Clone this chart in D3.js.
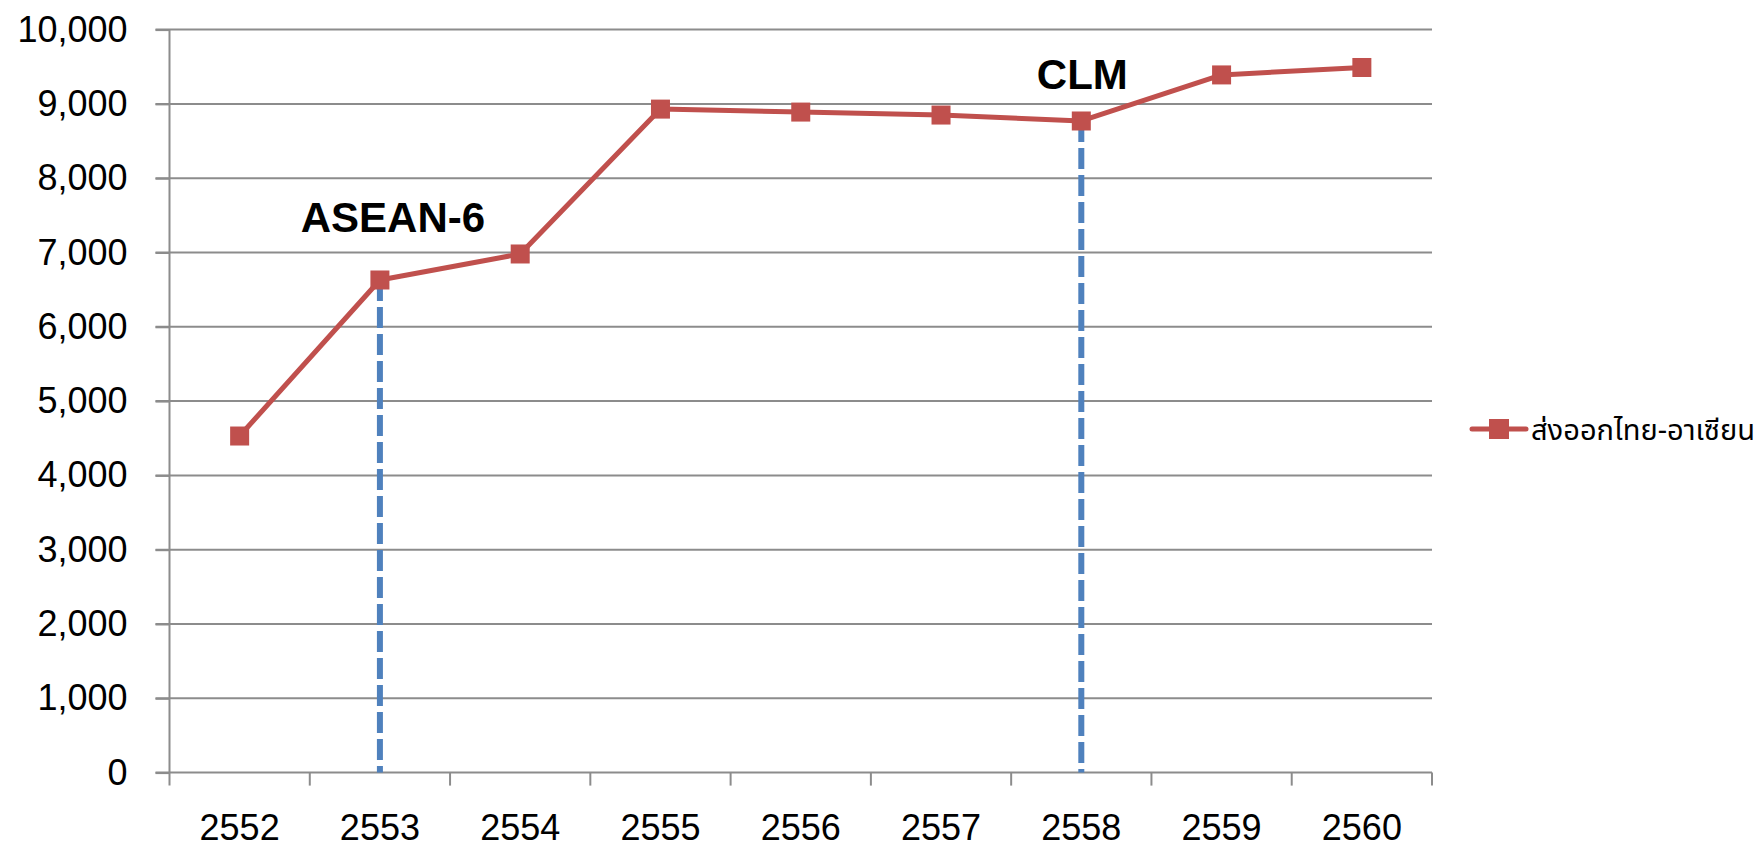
<!DOCTYPE html>
<html>
<head>
<meta charset="utf-8">
<script src="https://cdn.jsdelivr.net/npm/d3@7"></script>
<style>
  body { margin: 0; background: #fff; }
  svg { display: block; }
</style>
</head>
<body>
<svg id="chart" width="1762" height="847"></svg>
<script>
// data
const years = ["2552", "2553", "2554", "2555", "2556", "2557", "2558", "2559", "2560"];
const exportValues = [4530, 6630, 6980, 8930, 8890, 8850, 8770, 9390, 9490];
const seriesName = "ส่งออกไทย-อาเซียน";
const yTicks = [0, 1000, 2000, 3000, 4000, 5000, 6000, 7000, 8000, 9000, 10000];
const markYears = ["2553", "2558"];
const markLabels = ["ASEAN-6", "CLM"];

const svg = d3.select("#chart");

const plot = { left: 169.5, right: 1432, top: 29.6, bottom: 772.6 };
const RED = "#C0504D", BLUE = "#4F81BD", GRID = "#8c8c8c";
const labelFont = "'Liberation Sans', Arial, sans-serif";

const x = d3.scaleBand().domain(years).range([plot.left, plot.right]).padding(0);
const y = d3.scaleLinear().domain([0, 10000]).range([plot.bottom, plot.top]);
const xc = d => x(d) + x.bandwidth() / 2;

// gridlines (start at the tick, like excel)
svg.append("g")
  .selectAll("line")
  .data(yTicks.slice(1))
  .join("line")
    .attr("x1", plot.left - 14).attr("x2", plot.right)
    .attr("y1", d => y(d)).attr("y2", d => y(d))
    .attr("stroke", GRID).attr("stroke-width", 2);

// y axis
const yAxis = svg.append("g")
  .attr("transform", `translate(${plot.left},0)`)
  .call(d3.axisLeft(y).tickValues(yTicks).tickSize(14).tickPadding(28).tickFormat(d3.format(",")));
yAxis.select(".domain").remove();
yAxis.selectAll(".tick line").attr("stroke", GRID).attr("stroke-width", 2);
yAxis.selectAll(".tick text")
  .attr("font-family", labelFont).attr("font-size", 36).attr("fill", "#000");

// axis lines
svg.append("line")
  .attr("x1", plot.left).attr("x2", plot.left)
  .attr("y1", plot.top).attr("y2", plot.bottom + 13)
  .attr("stroke", GRID).attr("stroke-width", 2);
svg.append("line")
  .attr("x1", plot.left - 14).attr("x2", plot.right)
  .attr("y1", plot.bottom).attr("y2", plot.bottom)
  .attr("stroke", GRID).attr("stroke-width", 2);

// x ticks sit on the category boundaries
const boundaries = years.map(d => x(d) + x.bandwidth());
svg.append("g")
  .selectAll("line")
  .data(boundaries)
  .join("line")
    .attr("x1", d => d).attr("x2", d => d)
    .attr("y1", plot.bottom).attr("y2", plot.bottom + 13)
    .attr("stroke", GRID).attr("stroke-width", 2);

svg.append("g")
  .selectAll("text")
  .data(years)
  .join("text")
    .attr("x", d => xc(d))
    .attr("y", 840)
    .attr("text-anchor", "middle")
    .attr("font-family", labelFont).attr("font-size", 36)
    .text(d => d);

// dashed blue drop lines
svg.append("g")
  .selectAll("line")
  .data(markYears)
  .join("line")
    .attr("x1", d => xc(d)).attr("x2", d => xc(d))
    .attr("y1", d => y(exportValues[years.indexOf(d)]))
    .attr("y2", plot.bottom)
    .attr("stroke", BLUE).attr("stroke-width", 6)
    .attr("stroke-dasharray", "21,6");

// annotation labels
const labelOffset = [{ dx: 13, dy: -48 }, { dx: 1, dy: -32 }];
svg.append("g")
  .selectAll("text")
  .data(markYears)
  .join("text")
    .attr("x", (d, i) => xc(d) + labelOffset[i].dx)
    .attr("y", (d, i) => y(exportValues[years.indexOf(d)]) + labelOffset[i].dy)
    .attr("text-anchor", "middle")
    .attr("font-family", labelFont).attr("font-weight", "bold").attr("font-size", 42)
    .text((d, i) => markLabels[i]);

// series line + markers
const line = d3.line().x((d, i) => xc(years[i])).y(d => y(d));
svg.append("path")
  .datum(exportValues)
  .attr("d", line)
  .attr("fill", "none")
  .attr("stroke", RED).attr("stroke-width", 5)
  .attr("stroke-linejoin", "round");

const ms = 19;
svg.append("g")
  .selectAll("rect")
  .data(exportValues)
  .join("rect")
    .attr("x", (d, i) => xc(years[i]) - ms / 2)
    .attr("y", d => y(d) - ms / 2)
    .attr("width", ms).attr("height", ms)
    .attr("fill", RED);

// legend
const lg = svg.append("g").attr("transform", "translate(1472,429)");
lg.append("line").attr("x1", 0).attr("x2", 54).attr("y1", 0).attr("y2", 0)
  .attr("stroke", RED).attr("stroke-width", 5).attr("stroke-linecap", "round");
lg.append("rect").attr("x", 27 - 10).attr("y", -10).attr("width", 20).attr("height", 20).attr("fill", RED);
lg.append("text")
  .attr("x", 59).attr("y", 11)
  .attr("font-family", "Tahoma, 'Noto Sans Thai', 'Noto Sans', sans-serif")
  .attr("font-size", 29)
  .attr("textLength", 224).attr("lengthAdjust", "spacingAndGlyphs")
  .text(seriesName);
</script>
</body>
</html>
